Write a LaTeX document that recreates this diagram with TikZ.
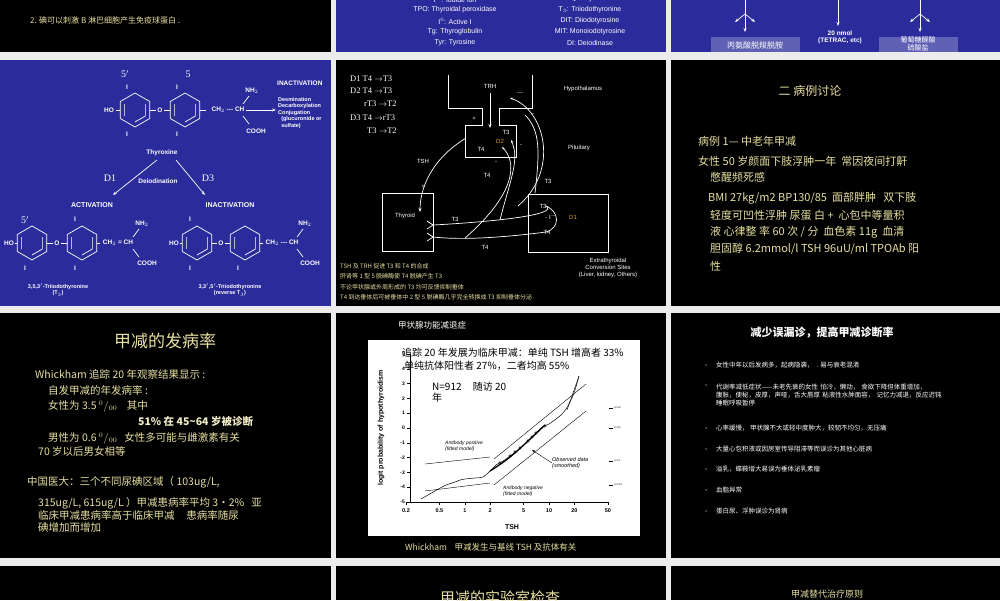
\documentclass[tikz,border=0pt]{standalone}
\usepackage{fontspec}
\setmainfont{Liberation Serif}
\newfontfamily\cjk{Noto Sans CJK SC}
\newfontfamily\hv{Liberation Sans}
\usetikzlibrary{arrows.meta}
\definecolor{slblue}{HTML}{2B2B9B}
\definecolor{ylw}{HTML}{E6DFA0}
\definecolor{gapc}{HTML}{ECECEC}
\definecolor{orng}{HTML}{E0A040}
\tikzset{
 slide/.style={fill=black,draw=none},
 bslide/.style={fill=slblue,draw=none},
 wt/.style={text=white,inner sep=0pt},
 yt/.style={text=ylw,inner sep=0pt,anchor=west},
 chm/.style={wt,font=\hv\bfseries\fontsize{6.5}{7}\selectfont},
 wln/.style={white,line width=0.7pt},
 war/.style={white,line width=0.7pt,-{Stealth[length=4pt]}},
 ckb/.style={wt,anchor=west,font=\cjk\fontsize{6.5}{8}\selectfont},
}
\newcommand\hexr[2]{\draw[wln,shift={(#1,#2)}] (90:17)--(150:17)--(210:17)--(270:17)--(330:17)--(30:17)--cycle;
 \draw[wln,shift={(#1,#2)}] (150:12)--(210:12) (330:12)--(30:12) (90:12)--(30:12);}
\begin{document}
\begin{tikzpicture}[x=1pt,y=-1pt]
\useasboundingbox (0,0) rectangle (1000,600);
\fill[gapc] (0,0) rectangle (1000,600);
% slides
\fill[slide] (0,0) rectangle (331,52);
\fill[bslide] (336,0) rectangle (666,52);
\fill[bslide] (671,0) rectangle (1000,52);
\fill[bslide] (0,60) rectangle (331,306);
\fill[slide] (336,60) rectangle (666,306);
\fill[slide] (671,60) rectangle (1000,306);
\fill[slide] (0,313) rectangle (331,558);
\fill[slide] (336,313) rectangle (666,558);
\fill[slide] (671,313) rectangle (1000,558);
\fill[slide] (0,566) rectangle (331,600);
\fill[slide] (336,566) rectangle (666,600);
\fill[slide] (671,566) rectangle (1000,600);

% ---- top row
\node[yt,font=\cjk\fontsize{8}{9}\selectfont] (t1) at (30,20) {2. 碘可以刺激 B 淋巴细胞产生免疫球蛋白 .};
\begin{scope}[every node/.style={wt,font=\hv\fontsize{7}{8}\selectfont}]
\node (a1) at (455,10) {TPO: Thyroidal peroxidase};
\node (a2) at (455,21) {I$^0$: Active I};
\node (a3) at (455,32) {Tg: Thyroglobulin};
\node (a4) at (455,43) {Tyr: Tyrosine};
\node (b1) at (590,10) {T$_3$: Triiodothyronine};
\node (b2) at (590,21) {DIT: Diiodotyrosine};
\node (b3) at (590,32) {MIT: Monoiodotyrosine};
\node (b4) at (590,43) {DI: Deiodinase};
\node (b0) at (590,-1) {T$_4$: Thyroxine};
\node (a0) at (455,-1) {I$^-$: Iodide ion};
\end{scope}
\fill[slblue!75!white] (711,37) rectangle (800,52);
\fill[slblue!75!white] (879,37) rectangle (958,52);
\node[wt,font=\cjk\fontsize{8}{9}\selectfont] (c1) at (755,45) {丙氨酸脱羧脱胺};
\node[wt,font=\hv\bfseries\fontsize{6.5}{7}\selectfont,align=center] (c2) at (840,37) {20 nmol\\(TETRAC, etc)};
\node[wt,font=\cjk\fontsize{7}{8}\selectfont,align=center] (c3) at (918,44) {葡萄糖醛酸\\硫酸盐};
\coordinate (f1) at (745,0); \coordinate (f2) at (920,0); \coordinate (f3) at (838,0);
\draw[war] (f1) -- (745,32);
\draw[war] (745,14) -- (735,22); \draw[war] (745,14) -- (755,22);
\draw[war] (f2) -- (920,32);
\draw[war] (920,14) -- (910,22); \draw[war] (920,14) -- (930,22);
\draw[war] (f3) -- (838,26);

% ---- row2 col1 chemistry
\hexr{135}{110}\hexr{185}{110}
\node[chm] (ho1) at (109,110) {HO};
\draw[wln] (116,110)--(120,110);
\node[chm] (o1) at (160,110) {O};
\draw[wln] (150,110)--(156,110) (164,110)--(170,110);
\draw[wln] (200,110)--(206,110);
\node[chm] (ch1) at (228,110) {CH$_2$ --- CH};
\draw[wln] (243,104)--(249,96) (243,116)--(249,124);
\node[chm] (nh1) at (252,91) {NH$_2$};
\node[chm] (co1) at (256,131) {COOH};
\node[chm] (i1) at (127,87) {I}; \node[chm] (i2) at (127,134) {I};
\node[chm] (i3) at (177,87) {I}; \node[chm] (i4) at (177,134) {I};
\node[wt,font=\fontsize{10}{10}\selectfont] (p5a) at (125,74) {5$'$};
\node[wt,font=\fontsize{10}{10}\selectfont] (p5b) at (188,74) {5};
\draw[war] (246,110)--(276,110);
\node[chm,anchor=west] (ina) at (277,83) {INACTIVATION};
\node[chm,anchor=west,font=\hv\bfseries\fontsize{5.5}{6.5}\selectfont,align=left] (inb) at (278,113) {Desmination\\Decarboxylation\\Conjugation\\\ \ (glucuronide or\\\ \ sulfate)};
\node[chm] (thx) at (162,153) {Thyroxine};
\draw[war] (157,160)--(113,195);
\draw[war] (176,160)--(205,195);
\node[wt,font=\fontsize{10}{10}\selectfont] (d1l) at (110,178) {D1};
\node[wt,font=\fontsize{10}{10}\selectfont] (d3l) at (208,178) {D3};
\node[chm] (deio) at (158,181) {Deiodination};
\node[chm,font=\hv\bfseries\fontsize{7}{7}\selectfont] (act) at (92,205) {ACTIVATION};
\node[chm,font=\hv\bfseries\fontsize{7}{7}\selectfont] (ina2) at (230,205) {INACTIVATION};
% T3
\hexr{32}{243}\hexr{82}{243}
\node[chm] (ho2) at (9,243) {HO}; \draw[wln] (15,243)--(17,243);
\node[chm] (o2) at (57,243) {O}; \draw[wln] (47,243)--(53,243) (61,243)--(67,243);
\draw[wln] (97,243)--(100,243);
\node[chm] (ch2) at (118,243) {CH$_2$ = CH};
\draw[wln] (133,237)--(139,229) (133,249)--(139,257);
\node[chm] (nh2) at (142,224) {NH$_2$}; \node[chm] (co2) at (147,263) {COOH};
\node[chm] (i5) at (25,268) {I}; \node[chm] (i6) at (75,219) {I}; \node[chm] (i7) at (75,268) {I};
\node[wt,font=\fontsize{10}{10}\selectfont] (p5c) at (25,220) {5$'$};
\node[chm,align=center,font=\hv\bfseries\fontsize{5.5}{6.5}\selectfont] (t3n) at (58,290) {3,5,3$'$-Triiodothyronine\\(T$_3$)};
% rT3
\hexr{197}{243}\hexr{245}{243}
\node[chm] (ho3) at (174,243) {HO}; \draw[wln] (180,243)--(182,243);
\node[chm] (o3) at (221,243) {O}; \draw[wln] (212,243)--(217,243) (225,243)--(230,243);
\draw[wln] (260,243)--(263,243);
\node[chm] (ch3) at (282,243) {CH$_2$ --- CH};
\draw[wln] (297,237)--(303,229) (297,249)--(303,257);
\node[chm] (nh3) at (305,224) {NH$_2$}; \node[chm] (co3) at (310,263) {COOH};
\node[chm] (i8) at (190,219) {I}; \node[chm] (i9) at (190,268) {I}; \node[chm] (i10) at (238,268) {I};
\node[chm,align=center,font=\hv\bfseries\fontsize{5.5}{6.5}\selectfont] (rt3n) at (230,290) {3,3$'$,5$'$-Triiodothyronine\\(reverse T$_3$)};

% ---- row2 col2 feedback diagram
\begin{scope}[every node/.style={wt,font=\fontsize{8.5}{9}\selectfont,anchor=west}]
\node (e1) at (350,79) {D1 T4 $\to$T3};
\node (e2) at (350,91) {D2 T4 $\to$T3};
\node (e3) at (364,104) {rT3 $\to$T2};
\node (e4) at (350,118) {D3 T4 $\to$rT3};
\node (e5) at (367,131) {T3 $\to$T2};
\end{scope}
\draw[wln] (448,75)--(448,108)--(482,108)--(482,125)--(465,125)--(465,157)--(516,157)--(516,125)--(499,125)--(499,108)--(532,108)--(532,75);
\begin{scope}[every node/.style={wt,font=\hv\fontsize{6}{7}\selectfont}]
\node (trh) at (490,86) {TRH};
\node (hyp) at (583,89) {Hypothalamus};
\node (mn1) at (520,94) {---};
\node (pl1) at (474,119) {+};
\node (t3a) at (506,132) {T3};
\node[text=orng] (d2) at (500,141) {D2};
\node (t4a) at (481,149) {T4};
\node (mn2) at (521,146) {-};
\node (mn3) at (533,115) {-};
\node (pit) at (579,148) {Pituitary};
\node (tsh) at (423,161) {TSH};
\node (pl2) at (423,187) {+};
\node (t4b) at (487,175) {T4};
\node (mn4) at (496,163) {-};
\node (t3b) at (548,181) {T3};
\node (t3c) at (455,219) {T3};
\node (t4c) at (485,247) {T4};
\node (t3d) at (543,206) {T3};
\node (iod) at (551,217) {- I$^-$};
\node[text=orng] (d1) at (573,217) {D1};
\node (t4d) at (547,232) {T4};
\node[align=center] (ext) at (608,268) {Extrathyroidal\\Conversion Sites\\(Liver, kidney, Others)};
\node (thyl) at (405,216) {Thyroid};
\end{scope}
\draw[war] (490,93) -- (490,128);
\draw[wln] (382,193) rectangle (433,251);
\draw[wln] (528,194) rectangle (608,252);
\coordinate (n1) at (433,225); \coordinate (n2) at (433,237);
\draw[wln] (427,221)--(n1)--(427,229) (427,233)--(n2)--(427,241);
\draw[war] (466,138) .. controls (430,160) and (420,190) .. (420,212);
\draw[wln] (n1) .. controls (490,222) and (560,215) .. (546,206);
\draw[wln] (546,206) .. controls (560,212) and (560,228) .. (546,232);
\draw[wln] (546,232) .. controls (500,238) and (460,240) .. (n2);
\draw[wln,-{Stealth[length=3pt]}] (465,238) .. controls (520,190) and (515,160) .. (502,147);
\draw[wln,-{Stealth[length=3pt]}] (518,206) .. controls (560,170) and (545,110) .. (510,98);
\draw[wln,-{Stealth[length=3pt]}] (500,220) .. controls (510,180) and (520,160) .. (511,140);
\draw[wln] (535,193) .. controls (540,150) and (540,130) .. (525,115);
\begin{scope}[every node/.style={yt,font=\cjk\fontsize{6}{7}\selectfont}]
\node (g1) at (340,266) {TSH 及 TRH 促进 T3 和 T4 的合成};
\node (g2) at (340,276) {肝肾等 1 型 5 脱碘酶使 T4 脱碘产生 T3};
\node (g3) at (340,287) {不论甲状腺或外周形成的 T3 均可反馈抑制垂体};
\node (g4) at (340,297) {T4 到达垂体后可被垂体中 2 型 5 脱碘酶几乎完全转换成 T3 抑制垂体分泌};
\end{scope}

% ---- row2 col3
\begin{scope}[every node/.style={yt,font=\cjk\fontsize{11}{12}\selectfont}]
\node[anchor=center,font=\cjk\fontsize{12}{13}\selectfont] (h2) at (810,91) {二 病例讨论};
\node (k1) at (698,141) {病例 1— 中老年甲减};
\node (k2) at (698,161) {女性 50 岁颜面下肢浮肿一年 \ 常因夜间打鼾};
\node (k3) at (710,177) {憋醒频死感};
\node (k4) at (708,198) {BMI 27kg/m2 BP130/85 \ 面部胖肿 \ \ 双下肢};
\node (k5) at (710,215) {轻度可凹性浮肿 尿蛋 白 + \ 心包中等量积};
\node (k6) at (710,232) {液 心律整 率 60 次 / 分 \ 血色素 11g \ 血清};
\node (k7) at (710,249) {胆固醇 6.2mmol/l TSH 96uU/ml TPOAb 阳};
\node (k8) at (710,266) {性};
\end{scope}

% ---- row3 col1
\begin{scope}[every node/.style={yt,font=\cjk\fontsize{10.5}{12}\selectfont}]
\node[anchor=center,font=\cjk\fontsize{17}{18}\selectfont] (h3) at (165,341) {甲减的发病率};
\node (m1) at (35,374) {Whickham 追踪 20 年观察结果显示 :};
\node (m2) at (48,390) {自发甲减的年发病率 :};
\node (m3) at (48,406) {女性为 3.5 $^0/_{00}$ \ \ \ 其中};
\node[font=\cjk\bfseries\fontsize{10.5}{12}\selectfont,text=ylw!60!white] (m4) at (138,422) {51\% 在 45\textasciitilde64 岁被诊断};
\node (m5) at (48,438) {男性为 0.6 $^0/_{00}$ \ \ 女性多可能与雌激素有关};
\node (m6) at (38,451) {70 岁以后男女相等};
\node (m7) at (27,482) {中国医大：三个不同尿碘区域（ 103ug/L,};
\node (m8) at (38,503) {315ug/L, 615ug/L ）甲减患病率平均 3·2\% \ \ 亚};
\node (m9) at (38,515) {临床甲减患病率高于临床甲减 \ \ \ \ 患病率随尿};
\node (m10) at (38,527) {碘增加而增加};
\end{scope}

% ---- row3 col2 plot
\node[yt,text=white!85!ylw,font=\cjk\fontsize{8.5}{9}\selectfont] (h4) at (398,325) {甲状腺功能减退症};
\fill[white] (368,340) rectangle (640,536);
\begin{scope}[black]
\draw[line width=0.6pt] (410,354)--(410,502)--(608,502);
\foreach \v/\l in {0.2/0.2,0.5/0.5,1/1,2/2,5/5,10/10,20/20,50/50}{
 \pgfmathsetmacro\xx{406+(log10(\v)-log10(0.2))*84.2}
 \draw (\xx,502)--(\xx,505);
 \node[font=\hv\bfseries\fontsize{5.5}{6}\selectfont,inner sep=0] at (\xx,511) {\l};}
\foreach \k in {-5,...,5}{
 \pgfmathsetmacro\yy{428-\k*14.8}
 \draw (410,\yy)--(407,\yy);
 \node[font=\hv\bfseries\fontsize{5}{6}\selectfont,inner sep=0,anchor=east] at (405,\yy) {\k};}
\node[font=\hv\bfseries\fontsize{7}{8}\selectfont,rotate=90] (ylab) at (381,428) {logit probability of hypothyroidism};
\node[font=\hv\bfseries\fontsize{7}{8}\selectfont] (xlab) at (512,527) {TSH};
\draw[line width=0.5pt] plot[smooth,mark=o,mark size=1.3pt] coordinates {
 (421,499) (442,487) (449,484) (455,482) (460,480) (465,479) (475,478) (483,477) (490,471) (496,465) (506,459) (524,445) (541,428) (549,424) (561,415) (566,409) (568,406) (574,393) (579,376)};
\foreach \p in {(500,463),(510,456),(515,452),(520,448),(528,441),(532,437),(536,433),(545,426)} \draw \p circle (1.3pt);
\draw[line width=1.3pt] (490,471)..controls (510,458)..(545,425);
\draw (579,376)--(567,410);
\draw (425,464)--(490,457) (494,459)--(586,384);
\draw (425,491)--(490,483) (494,485)--(586,411);
\node[font=\hv\itshape\fontsize{5}{6}\selectfont,align=left,anchor=west,inner sep=0] (abp) at (445,446) {Antibody positive\\(fitted model)};
\node[font=\hv\itshape\fontsize{5}{6}\selectfont,align=left,anchor=west,inner sep=0] (abn) at (503,491) {Antibody negative\\(fitted model)};
\node[font=\hv\itshape\fontsize{5.5}{6}\selectfont,align=left,anchor=west,inner sep=0] (obs) at (552,463) {Observed data\\(smoothed)};
\draw[-{Stealth[length=3pt]}] (obs.west) -- (532,450);
\foreach \y/\l in {408/0.8,428/0.5,461/0.1,485/0.02}{
 \draw (609,\y)--(613,\y); \node[font=\hv\fontsize{2.5}{3}\selectfont,anchor=west,inner sep=0] at (614,\y) {p=\l};}
\node[font=\cjk\fontsize{10}{11}\selectfont,anchor=west,inner sep=0] (ov1) at (402,353) {追踪 20 年发展为临床甲减：单纯 TSH 增高者 33\%};
\node[font=\cjk\fontsize{10}{11}\selectfont,anchor=west,inner sep=0] (ov2) at (404,366) {单纯抗体阳性者 27\%，二者均高 55\%};
\node[font=\cjk\fontsize{10}{11}\selectfont,anchor=west,inner sep=0,align=left] (ov3) at (432,392) {N=912 \ \ \ \ 随访 20\\年};
\end{scope}
\node[yt,font=\cjk\fontsize{8.5}{9}\selectfont] (cap) at (405,547) {Whickham \ \ \ 甲减发生与基线 TSH 及抗体有关};

% ---- row3 col3
\node[wt,font=\cjk\bfseries\fontsize{11}{12}\selectfont] (h5) at (822,333) {减少误漏诊，提高甲减诊断率};
\foreach \y in {365,385,428,449,469,490,511} \fill[white] (706,\y) circle (0.6pt);
\node[ckb] at (716,365) {女性中年以后发病多，起病隐袭， \ . 易与衰老混淆};
\node[ckb,align=left,text width=250pt] at (716,395) {代谢率减低症状——未老先衰的女性 怕冷，懒动， 食欲下降但体重增加， 腹胀，便秘，皮厚，声哑，舌大唇厚 粘液性水肿面容， 记忆力减退，反应迟钝 睡眠呼吸暂停};
\node[ckb] at (716,428) {心率缓慢， 甲状腺不大或轻中度肿大，较韧不均匀，无压痛};
\node[ckb] at (716,449) {大量心包积液或因房室传导阻滞等而误诊为其他心脏病};
\node[ckb] at (716,469) {溢乳，蝶鞍增大易误为垂体泌乳素瘤};
\node[ckb] at (716,490) {血脂异常};
\node[ckb] at (716,511) {蛋白尿、浮肿误诊为肾病};

% ---- row4
\node[yt,anchor=center,font=\cjk\fontsize{15}{16}\selectfont] (h6) at (500,598) {甲减的实验室检查};
\node[yt,anchor=center,font=\cjk\fontsize{9}{10}\selectfont] (h7) at (827,594) {甲减替代治疗原则};
\end{tikzpicture}
\end{document}
